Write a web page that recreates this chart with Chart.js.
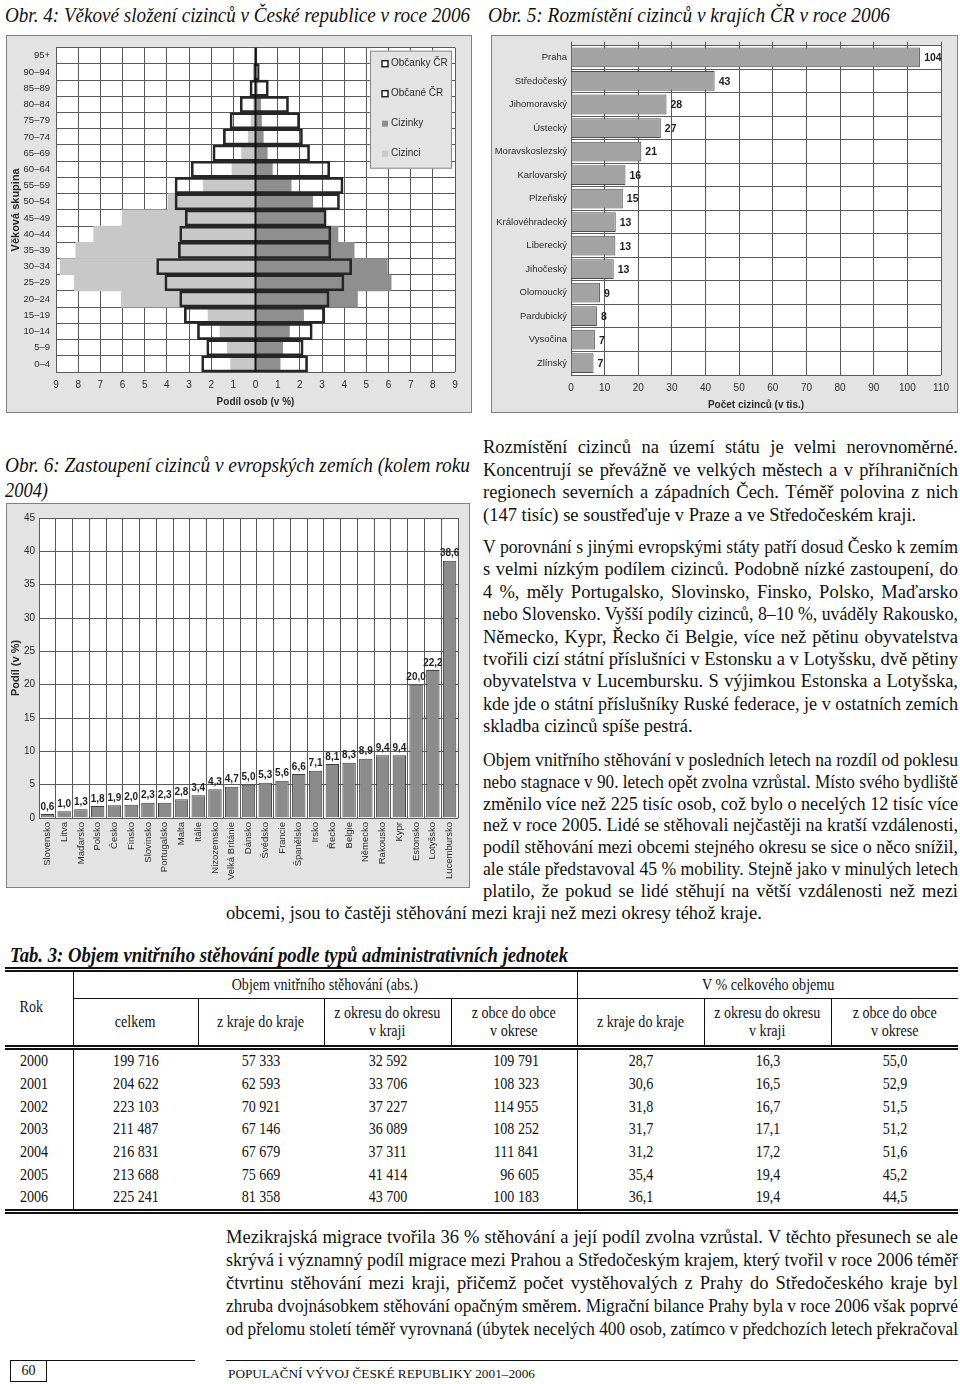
<!DOCTYPE html>
<html lang="cs">
<head>
<meta charset="utf-8">
<title>Cizinci v ČR</title>
<script src="https://cdn.jsdelivr.net/npm/chart.js@4.4.1/dist/chart.umd.min.js"></script>
<style>
  html, body { margin: 0; padding: 0; background: #fff; }
  body { width: 960px; height: 1384px; position: relative; overflow: hidden; font-family: 'Liberation Serif', 'Times New Roman', serif; color: #111; }
  .panel { position: absolute; background: #e3e3e3; border: 1px solid #808080; box-sizing: border-box; }
  .panel canvas { position: absolute; left: 0; top: 0; }
  .ln { position: absolute; white-space: nowrap; font-size: 18.5px; line-height: 24px; }
  .ln span { display: inline-block; transform-origin: 0 50%; }
  .ln.h { font-style: italic; font-size: 22px; }
  .ln.hb { font-weight: bold; }
  .ln.ft { font-style: normal; font-size: 13px; }
  .rule { position: absolute; height: 0; border-top: 1.5px solid #111; }
  #pageno { position: absolute; left: 10px; top: 1361px; width: 35px; height: 20px; border: 1px solid #111; border-top: none; font-size: 14px; line-height: 20px; text-align: center; }
  #tab { position: absolute; left: 5px; top: 967px; width: 953px; border-collapse: collapse; table-layout: fixed; font-size: 16px; line-height: 18px; border-top: 5px double #111; border-bottom: 5px double #111; }
  #tab td { padding: 0; text-align: center; vertical-align: middle; white-space: nowrap; }
  #tab .c { display: inline-block; transform: scaleX(0.88); }
  #tab tr.r1 td { height: 26px; }
  #tab tr.r1 td.grp { border-bottom: 1px solid #111; }
  #tab td.rok { vertical-align: top; padding-top: 26px; text-align: left; padding-left: 13px; border-bottom: 5px double #111; }
  #tab td.sep { border-right: 1px solid #111; }
  #tab tr.r2 td { height: 46px; border-bottom: 5px double #111; }
  #tab tbody td { height: 22.67px; }
  #tab tbody td.yr { text-align: left; padding-left: 13px; }
  #tab td.ra { text-align: right; padding-right: 38px; }
  #tab td.ra .c { transform-origin: 100% 50%; }
</style>
</head>
<body>

<div class="panel" style="left:6px;top:35px;width:466px;height:378px;"><canvas id="pyramid" width="464" height="376"></canvas></div>
<div class="panel" style="left:491px;top:35px;width:467px;height:378px;"><canvas id="regions" width="465" height="376"></canvas></div>
<div class="panel" style="left:6px;top:503px;width:464px;height:385px;"><canvas id="europe" width="462" height="383"></canvas></div>

<table id="tab">
  <colgroup>
    <col style="width:68px"><col style="width:125px"><col style="width:126px"><col style="width:127px">
    <col style="width:126px"><col style="width:127px"><col style="width:127px"><col style="width:127px">
  </colgroup>
  <thead>
    <tr class="r1">
      <td class="rok sep" rowspan="2"><span class="c">Rok</span></td>
      <td class="grp sep" colspan="4"><span class="c">Objem vnitřního stěhování (abs.)</span></td>
      <td class="grp" colspan="3"><span class="c">V % celkového objemu</span></td>
    </tr>
    <tr class="r2">
      <td class="sep"><span class="c">celkem</span></td>
      <td class="sep"><span class="c">z kraje do kraje</span></td>
      <td class="sep"><span class="c">z okresu do okresu<br>v kraji</span></td>
      <td class="sep"><span class="c">z obce do obce<br>v okrese</span></td>
      <td class="sep"><span class="c">z kraje do kraje</span></td>
      <td class="sep"><span class="c">z okresu do okresu<br>v kraji</span></td>
      <td><span class="c">z obce do obce<br>v okrese</span></td>
    </tr>
  </thead>
  <tbody id="tab-body"></tbody>
</table>

<div class="rule" style="left:10px;top:1360px;width:185px;"></div>
<div id="pageno">60</div>
<div class="rule" style="left:226px;top:1360px;width:732px;"></div>

<script>
'use strict';

// Obr. 4 - age groups, top row first
let ageGroups = ['95+', '90–94', '85–89', '80–84', '75–79', '70–74', '65–69', '60–64', '55–59', '50–54',
  '45–49', '40–44', '35–39', '30–34', '25–29', '20–24', '15–19', '10–14', '5–9', '0–4'];
let womenCitizens = [0.05, 0.17, 0.58, 1.49, 1.99, 2.12, 2.44, 3.35, 3.95, 3.79,
  3.19, 3.40, 3.40, 4.34, 3.99, 3.32, 3.13, 2.56, 2.15, 2.35];
let menCitizens = [0.02, 0.08, 0.25, 0.69, 1.15, 1.45, 1.92, 2.90, 3.63, 3.63,
  3.17, 3.42, 3.48, 4.46, 4.09, 3.42, 3.21, 2.62, 2.20, 2.43];
let womenForeigners = [0.01, 0.03, 0.08, 0.23, 0.27, 0.35, 0.53, 0.76, 1.61, 2.58,
  3.15, 3.72, 4.45, 5.95, 6.12, 4.60, 2.17, 1.53, 1.23, 1.11];
let menForeigners = [0.01, 0.02, 0.05, 0.10, 0.20, 0.33, 0.63, 1.06, 2.35, 3.95,
  6.02, 7.30, 8.11, 8.81, 8.17, 6.05, 2.14, 1.60, 1.27, 1.12];
let pyramidTicks = [-9, -8, -7, -6, -5, -4, -3, -2, -1, 0, 1, 2, 3, 4, 5, 6, 7, 8, 9];

// Obr. 5 - foreigners by region (thousands)
let regionNames = ['Praha', 'Středočeský', 'Jihomoravský', 'Ústecký', 'Moravskoslezský', 'Karlovarský', 'Plzeňský',
  'Královéhradecký', 'Liberecký', 'Jihočeský', 'Olomoucký', 'Pardubický', 'Vysočina', 'Zlínský'];
let regionForeigners = [103.8, 42.7, 28.4, 26.7, 20.9, 16.2, 15.4, 13.3, 13.2, 12.7, 8.6, 7.7, 7.1, 6.7];

// Obr. 6 - share of foreigners in European countries (%)
let countryNames = ['Slovensko', 'Litva', 'Maďarsko', 'Polsko', 'Česko', 'Finsko', 'Slovinsko', 'Portugalsko', 'Malta',
  'Itálie', 'Nizozemsko', 'Velká Británie', 'Dánsko', 'Švédsko', 'Francie', 'Španělsko', 'Irsko', 'Řecko', 'Belgie',
  'Německo', 'Rakousko', 'Kypr', 'Estonsko', 'Lotyšsko', 'Lucembursko'];
let countryShares = [0.6, 1.0, 1.3, 1.8, 1.9, 2.0, 2.3, 2.3, 2.8, 3.4, 4.3, 4.7, 5.0, 5.3, 5.6, 6.6, 7.1, 8.1, 8.3,
  8.9, 9.4, 9.4, 20.0, 22.2, 38.6];

// Tab. 3
let years = [2000, 2001, 2002, 2003, 2004, 2005, 2006];
let movesTotal = [199716, 204622, 223103, 211487, 216831, 213688, 225241];
let movesRegion = [57333, 62593, 70921, 67146, 67679, 75669, 81358];
let movesDistrict = [32592, 33706, 37227, 36089, 37311, 41414, 43700];
let movesMunicipality = [109791, 108323, 114955, 108252, 111841, 96605, 100183];
let shareRegion = [28.7, 30.6, 31.8, 31.7, 31.2, 35.4, 36.1];
let shareDistrict = [16.3, 16.5, 16.7, 17.1, 17.2, 19.4, 19.4];
let shareMunicipality = [55.0, 52.9, 51.5, 51.2, 51.6, 45.2, 44.5];

function fmtInt(n) {
  return String(n).replace(/\B(?=(\d{3})+(?!\d))/g, '\u00a0');
}
function fmtDec(v) {
  return v.toFixed(1).replace('.', ',');
}

// ---------- text lines ----------
let textLines = [
  { x: 5, y: 15, w: 465, cls: 'h', text: 'Obr. 4: Věkové složení cizinců v České republice v roce 2006' },
  { x: 488, y: 15, w: 402, cls: 'h', text: 'Obr. 5: Rozmístění cizinců v krajích ČR v roce 2006' },
  { x: 5, y: 465, w: 465, cls: 'h', text: 'Obr. 6: Zastoupení cizinců v evropských zemích (kolem roku' },
  { x: 5, y: 490, w: 43, cls: 'h', text: '2004)' },
  { x: 10, y: 955, w: 558, cls: 'h hb', text: 'Tab. 3: Objem vnitřního stěhování podle typů administrativních jednotek' },
  { x: 228, y: 1374, w: 307, cls: 'h ft', text: 'POPULAČNÍ VÝVOJ ČESKÉ REPUBLIKY 2001–2006' }
];

let paragraphs = [
  { x: 483, w: 475, y: 447, step: 22.7, lines: [
    'Rozmístění cizinců na území státu je velmi nerovnoměrné.',
    'Koncentrují se převážně ve velkých městech a v příhraničních',
    'regionech severních a západních Čech. Téměř polovina z nich',
    '(147 tisíc) se soustřeďuje v Praze a ve Středočeském kraji.'
  ] },
  { x: 483, w: 475, y: 547, step: 22.4, lines: [
    'V porovnání s jinými evropskými státy patří dosud Česko k zemím',
    's velmi nízkým podílem cizinců. Podobně nízké zastoupení, do',
    '4 %, měly Portugalsko, Slovinsko, Finsko, Polsko, Maďarsko',
    'nebo Slovensko. Vyšší podíly cizinců, 8–10 %, uváděly Rakousko,',
    'Německo, Kypr, Řecko či Belgie, více než pětinu obyvatelstva',
    'tvořili cizí státní příslušníci v Estonsku a v Lotyšsku, dvě pětiny',
    'obyvatelstva v Lucembursku. S výjimkou Estonska a Lotyšska,',
    'kde jde o státní příslušníky Ruské federace, je v ostatních zemích',
    'skladba cizinců spíše pestrá.'
  ] },
  { x: 483, w: 475, y: 760, step: 21.8, lines: [
    'Objem vnitřního stěhování v posledních letech na rozdíl od poklesu',
    'nebo stagnace v 90. letech opět zvolna vzrůstal. Místo svého bydliště',
    'změnilo více než 225 tisíc osob, což bylo o necelých 12 tisíc více',
    'než v roce 2005. Lidé se stěhovali nejčastěji na kratší vzdálenosti,',
    'podíl stěhování mezi obcemi stejného okresu se sice o něco snížil,',
    'ale stále představoval 45 % mobility. Stejně jako v minulých letech',
    'platilo, že pokud se lidé stěhují na větší vzdálenosti než mezi'
  ], tail: { x: 226, w: 732, text: 'obcemi, jsou to častěji stěhování mezi kraji než mezi okresy téhož kraje.' } },
  { x: 226, w: 732, y: 1237, step: 23, justifyLast: true, lines: [
    'Mezikrajská migrace tvořila 36 % stěhování a její podíl zvolna vzrůstal. V těchto přesunech se ale',
    'skrývá i významný podíl migrace mezi Prahou a Středočeským krajem, který tvořil v roce 2006 téměř',
    'čtvrtinu stěhování mezi kraji, přičemž počet vystěhovalých z Prahy do Středočeského kraje byl',
    'zhruba dvojnásobkem stěhování opačným směrem. Migrační bilance Prahy byla v roce 2006 však poprvé',
    'od přelomu století téměř vyrovnaná (úbytek necelých 400 osob, zatímco v předchozích letech překračoval'
  ] }
];

paragraphs.forEach(function (p) {
  p.lines.forEach(function (t, i) {
    let last = i === p.lines.length - 1 && !p.tail && !p.justifyLast;
    textLines.push({ x: p.x, y: p.y + i * p.step, w: p.w, cls: last ? '' : 'j', text: t });
  });
  if (p.tail) {
    textLines.push({ x: p.tail.x, y: p.y + p.lines.length * p.step, w: p.tail.w, cls: '', text: p.tail.text });
  }
});

textLines.forEach(function (spec) {
  let div = document.createElement('div');
  div.className = 'ln ' + spec.cls;
  div.style.left = spec.x + 'px';
  div.style.top = (spec.y - 12) + 'px';
  let span = document.createElement('span');
  span.textContent = spec.text;
  div.appendChild(span);
  document.body.appendChild(div);
  let w = span.getBoundingClientRect().width;
  if (div.classList.contains('h') || w > spec.w) {
    span.style.transform = 'scaleX(' + (spec.w / w) + ')';
  } else if (div.classList.contains('j')) {
    let gaps = (spec.text.match(/ /g) || []).length;
    if (gaps) span.style.wordSpacing = ((spec.w - w) / gaps) + 'px';
  }
});

// ---------- table ----------
let tbody = document.getElementById('tab-body');
for (let i = 0; i < years.length; i++) {
  let cells = [
    ['yr sep', years[i]],
    ['', fmtInt(movesTotal[i])],
    ['', fmtInt(movesRegion[i])],
    ['', fmtInt(movesDistrict[i])],
    ['ra sep', fmtInt(movesMunicipality[i])],
    ['', fmtDec(shareRegion[i])],
    ['', fmtDec(shareDistrict[i])],
    ['', fmtDec(shareMunicipality[i])]
  ];
  let tr = document.createElement('tr');
  cells.forEach(function (c) {
    let td = document.createElement('td');
    td.className = c[0];
    let s = document.createElement('span');
    s.className = 'c';
    s.textContent = c[1];
    td.appendChild(s);
    tr.appendChild(td);
  });
  tbody.appendChild(tr);
}

// ---------- charts ----------
Chart.defaults.font.family = "'Liberation Sans', Arial, sans-serif";
Chart.defaults.font.size = 9.5;
Chart.defaults.color = '#2a2a2a';
Chart.defaults.animation = false;
Chart.defaults.responsive = false;
Chart.defaults.plugins.legend.display = false;
Chart.defaults.plugins.tooltip.enabled = false;

let gridGrey = '#5a5a5a';

let plotBg = {
  id: 'plotBg',
  beforeDraw: function (chart) {
    let a = chart.chartArea;
    chart.ctx.save();
    chart.ctx.fillStyle = '#fff';
    chart.ctx.fillRect(a.left, a.top, a.right - a.left, a.bottom - a.top);
    chart.ctx.restore();
  }
};

function makeValueLabels(format, size) {
  return {
    id: 'valueLabels',
    afterDatasetsDraw: function (chart) {
      let ctx = chart.ctx;
      let meta = chart.getDatasetMeta(0);
      let values = chart.data.datasets[0].data;
      ctx.save();
      ctx.font = 'bold ' + size + "px 'Liberation Sans', Arial, sans-serif";
      ctx.fillStyle = '#1e1e1e';
      meta.data.forEach(function (bar, i) {
        if (chart.options.indexAxis === 'y') {
          ctx.textAlign = 'left';
          ctx.textBaseline = 'middle';
          ctx.fillText(format(values[i]), bar.x + 4, bar.y + 1);
        } else {
          ctx.textAlign = 'center';
          ctx.textBaseline = 'bottom';
          ctx.fillText(format(values[i]), bar.x, bar.y - 2);
        }
      });
      ctx.restore();
    }
  };
}

let pyramidExtras = {
  id: 'pyramidExtras',
  afterDatasetsDraw: function (chart) {
    let ctx = chart.ctx;
    let a = chart.chartArea;
    let x0 = chart.scales.x.getPixelForValue(0);
    ctx.save();
    ctx.strokeStyle = '#111';
    ctx.lineWidth = 2;
    ctx.beginPath();
    ctx.moveTo(x0, a.top);
    ctx.lineTo(x0, a.bottom);
    ctx.stroke();

    // legend box inside the plot
    let w = 82;
    let h = 118;
    let left = a.right - w - 3;
    let top = a.top + 3;
    ctx.fillStyle = '#e3e3e3';
    ctx.fillRect(left, top, w, h);
    ctx.strokeStyle = '#8a8a8a';
    ctx.lineWidth = 1;
    ctx.strokeRect(left + 0.5, top + 0.5, w - 1, h - 1);
    ctx.font = "10px 'Liberation Sans', Arial, sans-serif";
    ctx.textAlign = 'left';
    ctx.textBaseline = 'middle';
    chart.data.datasets.forEach(function (ds, i) {
      let y = top + 13 + i * 30;
      let filled = ds.borderWidth === 0;
      if (filled) {
        ctx.fillStyle = ds.backgroundColor;
        ctx.fillRect(left + 12, y - 3, 6, 6);
      } else {
        ctx.fillStyle = '#fff';
        ctx.fillRect(left + 12, y - 3, 6, 6);
        ctx.strokeStyle = '#222';
        ctx.lineWidth = 1.5;
        ctx.strokeRect(left + 12, y - 3, 6, 6);
      }
      ctx.fillStyle = '#2a2a2a';
      ctx.fillText(ds.label, left + 21, y);
    });
    ctx.restore();
  }
};

new Chart(document.getElementById('pyramid'), {
  type: 'bar',
  data: {
    labels: ageGroups,
    datasets: [
      { label: 'Občanky ČR', data: womenCitizens, backgroundColor: 'rgba(255,255,255,0)', borderColor: '#262626', borderWidth: 2 },
      { label: 'Občané ČR', data: menCitizens.map(function (v) { return -v; }), backgroundColor: 'rgba(255,255,255,0)', borderColor: '#262626', borderWidth: 2 },
      { label: 'Cizinky', data: womenForeigners, backgroundColor: '#8f8f8f', borderWidth: 0 },
      { label: 'Cizinci', data: menForeigners.map(function (v) { return -v; }), backgroundColor: '#c8c8c8', borderWidth: 0 }
    ]
  },
  options: {
    indexAxis: 'y',
    datasets: { bar: { grouped: false, barPercentage: 1, categoryPercentage: 1 } },
    layout: { padding: { top: 8, right: 16, left: 0, bottom: 0 } },
    scales: {
      x: {
        type: 'linear',
        min: pyramidTicks[0],
        max: pyramidTicks[pyramidTicks.length - 1],
        afterBuildTicks: function (scale) { scale.ticks = pyramidTicks.map(function (v) { return { value: v }; }); },
        ticks: { padding: 7, font: { size: 10 }, callback: function (v) { return Math.abs(v); } },
        grid: { color: gridGrey, drawTicks: false },
        border: { display: false },
        title: { display: true, text: 'Podíl osob (v %)', font: { size: 10, weight: 'bold' }, padding: { top: 2, bottom: 4 } },
        afterFit: function (scale) { scale.height = 40; }
      },
      y: {
        ticks: { padding: 6 },
        grid: { color: gridGrey, drawTicks: false },
        border: { display: false },
        title: { display: true, text: 'Věková skupina', font: { size: 11, weight: 'bold' }, padding: { top: 2, bottom: 2 } },
        afterFit: function (scale) { scale.width = 49; }
      }
    }
  },
  plugins: [plotBg, pyramidExtras]
});

new Chart(document.getElementById('regions'), {
  type: 'bar',
  data: {
    labels: regionNames,
    datasets: [{ data: regionForeigners, backgroundColor: '#a3a3a3', borderColor: '#4d4d4d', borderWidth: 1, barPercentage: 0.84, categoryPercentage: 1 }]
  },
  options: {
    indexAxis: 'y',
    layout: { padding: { top: 2, right: 16, left: 0, bottom: 0 } },
    scales: {
      x: {
        min: 0, max: 110,
        ticks: { stepSize: 10, padding: 7, font: { size: 10 } },
        grid: { color: gridGrey, drawTicks: false },
        border: { display: false },
        title: { display: true, text: 'Počet cizinců (v tis.)', font: { size: 10, weight: 'bold' }, padding: { top: 2, bottom: 1 } },
        afterFit: function (scale) { scale.height = 37; }
      },
      x2: {
        type: 'linear', position: 'top', min: 0, max: 110,
        ticks: { display: false, stepSize: 10 },
        grid: { drawOnChartArea: false, tickLength: 4, color: gridGrey },
        border: { display: false }
      },
      y: {
        ticks: { padding: 4, font: { size: 9.5 } },
        grid: { color: gridGrey, drawTicks: false },
        border: { display: false },
        afterFit: function (scale) { scale.width = 79; }
      }
    }
  },
  plugins: [plotBg, makeValueLabels(function (v) { return String(Math.round(v)); }, 10.5)]
});

new Chart(document.getElementById('europe'), {
  type: 'bar',
  data: {
    labels: countryNames,
    datasets: [{ data: countryShares, backgroundColor: '#8b8b8b', borderColor: '#3c3c3c', borderWidth: 1, barPercentage: 0.8, categoryPercentage: 1 }]
  },
  options: {
    layout: { padding: { top: 14, right: 11, left: 0, bottom: 0 } },
    scales: {
      x: {
        ticks: { minRotation: 90, maxRotation: 90, autoSkip: false, padding: 4 },
        grid: { color: gridGrey, drawTicks: false },
        border: { display: false },
        afterFit: function (scale) { scale.height = 69; }
      },
      y: {
        min: 0, max: 45,
        ticks: { stepSize: 5, padding: 4, font: { size: 10 } },
        grid: { color: gridGrey, drawTicks: false },
        border: { display: false },
        title: { display: true, text: 'Podíl (v %)', font: { size: 11, weight: 'bold' }, padding: { top: 2, bottom: 2 } },
        afterFit: function (scale) { scale.width = 32; }
      }
    }
  },
  plugins: [plotBg, makeValueLabels(fmtDec, 10)]
});
</script>
</body>
</html>
